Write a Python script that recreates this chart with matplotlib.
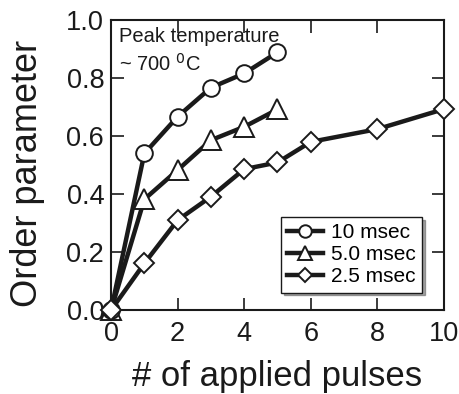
import matplotlib.pyplot as plt

plt.rcParams.update({
    'font.family': ['Liberation Sans', 'DejaVu Sans'],
})

# ── Data ──────────────────────────────────────────────────────────────────────
pulses_10 = [0, 1, 2, 3, 4, 5]
order_10 = [0.0, 0.54, 0.667, 0.767, 0.816, 0.889]

pulses_5 = [0, 1, 2, 3, 4, 5]
order_5 = [0.0, 0.382, 0.483, 0.586, 0.632, 0.692]

pulses_25 = [0, 1, 2, 3, 4, 5, 6, 8, 10]
order_25 = [0.0, 0.161, 0.31, 0.391, 0.486, 0.509, 0.58, 0.624, 0.693]

labels = ['10 msec', '5.0 msec', '2.5 msec']
xticks = [0, 2, 4, 6, 8, 10]
yticks = [0.0, 0.2, 0.4, 0.6, 0.8, 1.0]

INK = '#1a1a1a'

fig = plt.figure(figsize=(4.59, 3.94), dpi=100, facecolor='white')
ax = fig.add_axes([0.242, 0.213, 0.725, 0.736])

style = dict(color=INK, lw=3.2, markerfacecolor='white',
             markeredgecolor=INK, markeredgewidth=1.4, clip_on=False)
ax.plot(pulses_10, order_10, marker='o', ms=12, label=labels[0], zorder=4, **style)
ax.plot(pulses_5, order_5, marker='^', ms=14, label=labels[1], zorder=3, **style)
ax.plot(pulses_25, order_25, marker='D', ms=10, label=labels[2], zorder=5, **style)

ax.set_xlim(0, 10)
ax.set_ylim(0, 1.0)
ax.set_xticks(xticks)
ax.set_yticks(yticks)
ax.set_yticklabels([f'{v:.1f}' for v in yticks])
ax.tick_params(direction='in', length=9, width=1.2, top=True, right=True,
               labelsize=19.5, colors=INK)
ax.tick_params(axis='x', pad=8)
ax.tick_params(axis='y', pad=5)
for s in ax.spines.values():
    s.set_linewidth(1.5)
    s.set_color(INK)

ax.set_xlabel('# of applied pulses', fontsize=25, labelpad=9, color=INK)
ax.set_ylabel('Order parameter', fontsize=26, color=INK)
ax.yaxis.set_label_coords(-0.20, 0.47)

ax.text(0.24, 0.975, 'Peak temperature\n~ 700 $^{\\rm 0}$C', ha='left', va='top',
        fontsize=14.5, linespacing=1.35, color=INK)

leg = ax.legend(loc='lower right', bbox_to_anchor=(0.935, 0.06), fontsize=15,
                frameon=True, fancybox=False, shadow=True, handlelength=1.7,
                handletextpad=0.4, borderpad=0.3, labelspacing=0.15,
                borderaxespad=0, markerscale=0.75)
leg.get_frame().set_edgecolor(INK)
leg.get_frame().set_linewidth(1.0)

fig.savefig('out.png', dpi=100)
